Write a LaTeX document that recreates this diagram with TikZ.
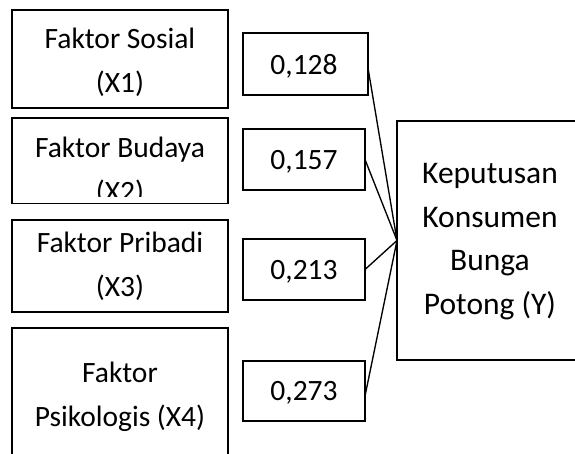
\documentclass[tikz,border=0pt]{standalone}
\usepackage{fontspec}
\setmainfont{Carlito}
\newcommand\mlines[1]{\parbox[t]{230pt}{\centering #1}}
\begin{document}
\begin{tikzpicture}[x=1pt,y=-1pt,
  box/.style={draw, line width=1.35pt, inner sep=0pt, outer sep=0pt},
  lbl/.style={anchor=base, inner sep=0pt, font=\fontsize{29.5pt}{44pt}\selectfont},
  biglbl/.style={lbl, font=\fontsize{31.5pt}{43.7pt}\selectfont},
  link/.style={line width=1.35pt}]
\useasboundingbox (0,0) rectangle (575,454);
\clip (0,0) rectangle (575,454);
% left factor boxes
\node[box, minimum width=216pt, minimum height=98pt] (x1) at (120,59) {};
\node[box, minimum width=216pt, minimum height=85.5pt] (x2) at (120,160.75) {};
\node[box, minimum width=216pt, minimum height=92pt] (x3) at (120,266) {};
\node[box, minimum width=216pt, minimum height=142pt] (x4) at (120,399) {};
% coefficient boxes
\node[box, minimum width=125pt, minimum height=62pt] (n1) at (305.5,64) {};
\node[box, minimum width=122pt, minimum height=61pt] (n2) at (304,159.5) {};
\node[box, minimum width=122pt, minimum height=61pt] (n3) at (304,269.5) {};
\node[box, minimum width=122pt, minimum height=60pt] (n4) at (304,391) {};
% dependent box
\node[box, minimum width=203pt, minimum height=239pt] (y) at (498.5,240.5) {};
% texts
\node[lbl] (x1t) at (120,49) {\mlines{Faktor Sosial\\(X1)}};
\begin{scope}
  \clip (12,118) rectangle (228,196.5);
  \node[lbl] (x2t) at (120,158) {\mlines{Faktor Budaya\\(X2)}};
\end{scope}
\node[lbl] (x3t) at (120,252) {\mlines{Faktor Pribadi\\(X3)}};
\node[lbl] (x4t) at (120,382) {\mlines{Faktor\\Psikologis (X4)}};
\node[lbl] (n1t) at (304,74.5) {0,128};
\node[lbl] (n2t) at (304,169.5) {0,157};
\node[lbl] (n3t) at (304,279.5) {0,213};
\node[lbl] (n4t) at (304,400.5) {0,273};
\node[biglbl] (yt) at (490,183.5) {\mlines{Keputusan\\Konsumen\\Bunga\\Potong (Y)}};
% connectors
\draw[link] ([yshift=-4pt]n1.east) -- (y.west);
\draw[link] (n2.east) -- (y.west);
\draw[link] (n3.east) -- (y.west);
\draw[link] ([yshift=-5pt]n4.east) -- (y.west);
\end{tikzpicture}
\end{document}
